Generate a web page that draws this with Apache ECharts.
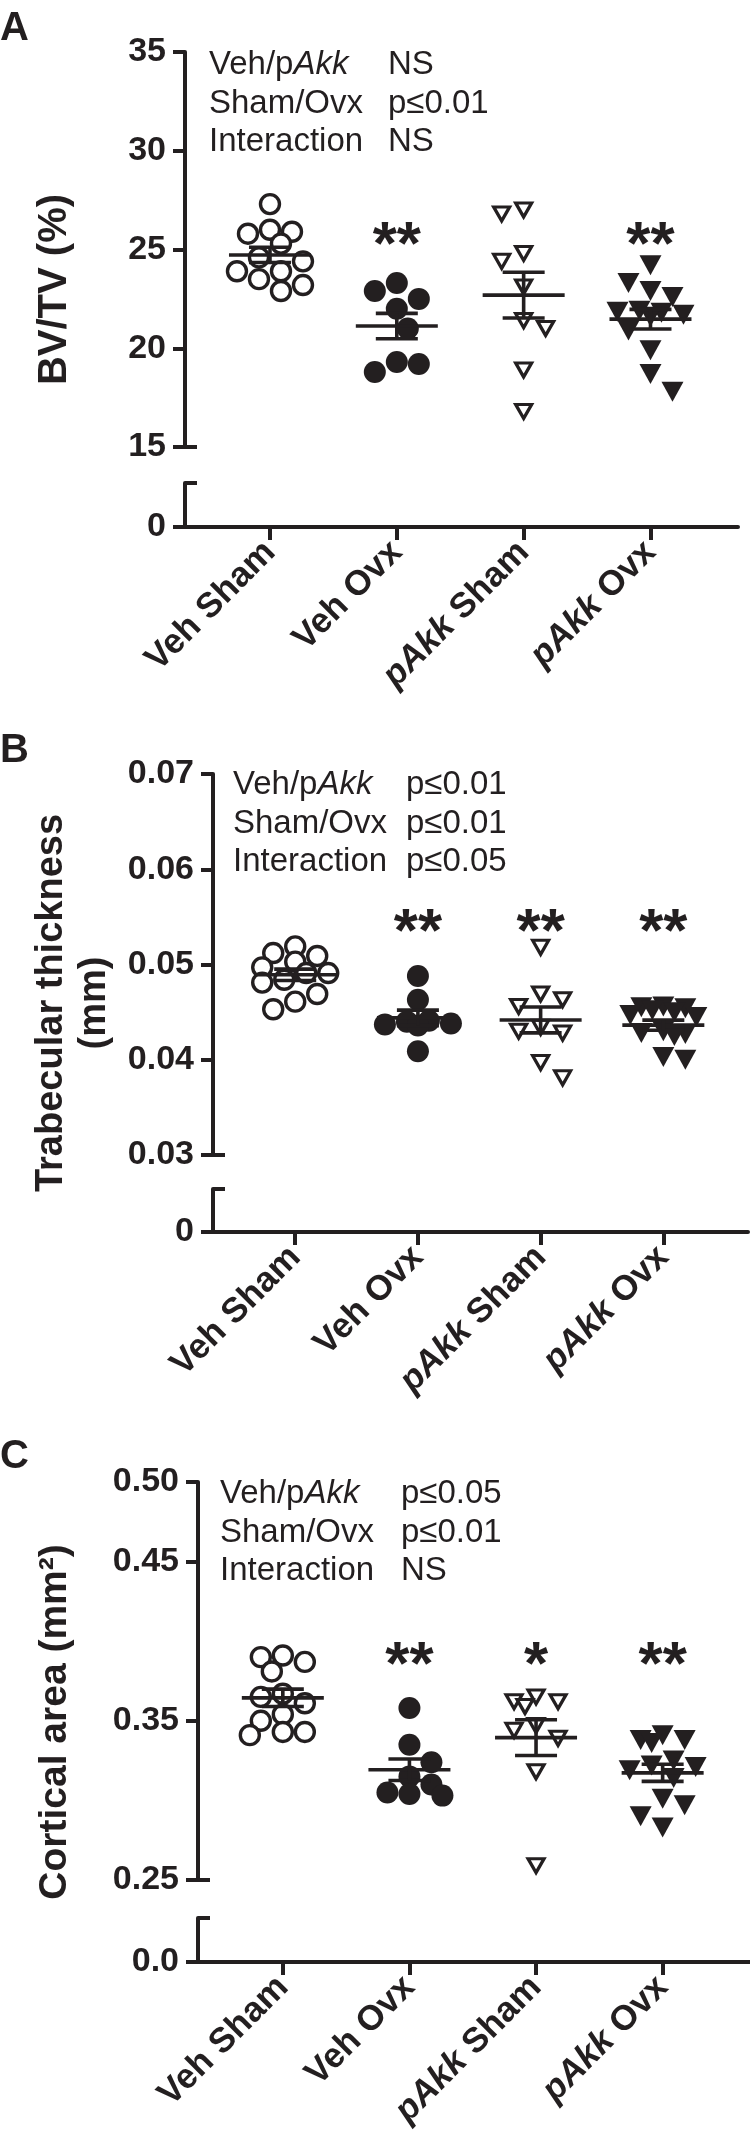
<!DOCTYPE html>
<html>
<head>
<meta charset="utf-8">
<script src="https://cdn.jsdelivr.net/npm/echarts@6.0.0/dist/echarts.min.js"></script>
<style>
html, body { margin: 0; padding: 0; background: #fff; }
#chart { width: 750px; height: 2150px; }
</style>
</head>
<body>
<div id="chart"></div>
<script>
// groups on the x axis
const groups = ['Veh Sham', 'Veh Ovx', 'pAkk Sham', 'pAkk Ovx'];

// A - BV/TV (%)
const bvtvVehSham = [27.3, 26.0, 25.9, 25.8, 25.3, 24.6, 24.4, 23.9, 23.9, 23.5, 23.2, 22.9];
const bvtvVehOvx = [23.3, 22.9, 22.5, 22.0, 21.0, 19.3, 19.2, 18.8];
const bvtvAkkSham = [27.0, 26.8, 24.8, 24.4, 23.1, 21.4, 21.0, 18.9, 16.8];
const bvtvAkkOvx = [24.2, 23.3, 22.9, 22.6, 21.9, 21.85, 21.8, 21.7, 21.6, 20.9, 19.9, 18.7, 17.8];

// B - trabecular thickness (mm)
const tbthVehSham = [0.0519, 0.0512, 0.0509, 0.0503, 0.0497, 0.0491, 0.0491, 0.0484, 0.0481, 0.0469, 0.0461, 0.0453];
const tbthVehOvx = [0.0488, 0.0463, 0.0441, 0.0440, 0.0438, 0.0437, 0.0436, 0.0409];
const tbthAkkSham = [0.0518, 0.0469, 0.0463, 0.0456, 0.0434, 0.0430, 0.0428, 0.0397, 0.0381];
const tbthAkkOvx = [0.0456, 0.0455, 0.0454, 0.0452, 0.0450, 0.0447, 0.0445, 0.0430, 0.0428, 0.0427, 0.0425, 0.0403, 0.0400];

// C - cortical area (mm2)
const ctarVehSham = [0.391, 0.390, 0.387, 0.381, 0.367, 0.365, 0.361, 0.354, 0.350, 0.343, 0.343, 0.341];
const ctarVehOvx = [0.358, 0.335, 0.324, 0.315, 0.310, 0.305, 0.304, 0.303];
const ctarAkkSham = [0.365, 0.362, 0.362, 0.359, 0.347, 0.344, 0.339, 0.318, 0.259];
const ctarAkkOvx = [0.341, 0.338, 0.338, 0.336, 0.325, 0.322, 0.321, 0.319, 0.314, 0.301, 0.297, 0.290, 0.283];

// asterisks vs Veh Sham
const sigBvtv = ['', '**', '', '**'];
const sigTbth = ['', '**', '**', '**'];
const sigCtar = ['', '**', '*', '**'];

// two-way anova
const anovaBvtv = [['Veh/p', 'NS'], ['Sham/Ovx', 'p≤0.01'], ['Interaction', 'NS']];
const anovaTbth = [['Veh/p', 'p≤0.01'], ['Sham/Ovx', 'p≤0.01'], ['Interaction', 'p≤0.05']];
const anovaCtar = [['Veh/p', 'p≤0.05'], ['Sham/Ovx', 'p≤0.01'], ['Interaction', 'NS']];

// y tick labels
const ticksBvtv = [15, 20, 25, 30, 35];
const ticksTbth = [0.03, 0.04, 0.05, 0.06, 0.07];
const ticksCtar = [0.25, 0.35, 0.45, 0.50];

const INK = '#231f20';
const FONT = '"Liberation Sans", Arial, Helvetica, sans-serif';
const X_MIN = 0.33, X_MAX = 4.69;
const DOT = 22;

const panels = [
    { letter: 'A', title: 'BV/TV (%)', titleSize: 40, sets: [bvtvVehSham, bvtvVehOvx, bvtvAkkSham, bvtvAkkOvx],
      sig: sigBvtv, anova: anovaBvtv, ticks: ticksBvtv, digits: 0, zero: '0', star: 25.85,
      left: 185, width: 553, top: 52, height: 395, capTop: 483, capHeight: 44,
      titleX: 55, letterY: 29, anovaX: [209, 388], anovaY: 65 },
    { letter: 'B', title: 'Trabecular thickness\n(mm)', titleSize: 38, sets: [tbthVehSham, tbthVehOvx, tbthAkkSham, tbthAkkOvx],
      sig: sigTbth, anova: anovaTbth, ticks: ticksTbth, digits: 2, zero: '0', star: 0.0547,
      left: 213, width: 535, top: 774, height: 381, capTop: 1189, capHeight: 43,
      titleX: 73, letterY: 751, anovaX: [233, 406], anovaY: 785 },
    { letter: 'C', title: 'Cortical area (mm²)', titleSize: 39, sets: [ctarVehSham, ctarVehOvx, ctarAkkSham, ctarAkkOvx],
      sig: sigCtar, anova: anovaCtar, ticks: ticksCtar, digits: 2, zero: '0.0', star: 0.3926,
      left: 198, width: 552, top: 1482, height: 398, capTop: 1918, capHeight: 44,
      titleX: 55, letterY: 1457, anovaX: [220, 401], anovaY: 1494 }
];

// marker look per group
const looks = [
    { symbol: 'circle', symbolSize: 19, symbolRotate: 0, itemStyle: { color: '#fff', borderColor: INK, borderWidth: 3.4, opacity: 1 } },
    { symbol: 'circle', symbolSize: 22, symbolRotate: 0, itemStyle: { color: INK, opacity: 1 } },
    { symbol: 'triangle', symbolSize: [16, 14], symbolRotate: 180, itemStyle: { color: '#fff', borderColor: INK, borderWidth: 3.2, opacity: 1 } },
    { symbol: 'triangle', symbolSize: [22, 20], symbolRotate: 180, itemStyle: { color: INK, opacity: 1 } }
];

// spread points sideways so they do not sit on top of each other
function swarm(vals, pxY, pxX) {
    const order = vals.map((v, i) => i).sort((a, b) => vals[b] - vals[a]);
    const placed = [];
    const out = [];
    order.forEach(i => {
        const y = vals[i] * pxY;
        const flip = placed.length % 2 ? -1 : 1;
        const cands = [0];
        for (let k = 1; k <= 3; k++) cands.push(flip * k * DOT / 2, -flip * k * DOT / 2);
        let bestX = 0, bestGap = -1;
        for (const x of cands) {
            let gap = Infinity;
            placed.forEach(p => { gap = Math.min(gap, Math.hypot(p.x - x, p.y - y)); });
            if (gap >= DOT) { bestX = x; break; }
            if (gap > bestGap + 0.5) { bestGap = gap; bestX = x; }
        }
        placed.push({ x: bestX, y: y });
        out[i] = bestX / pxX;
    });
    return out;
}

function meanSem(vals) {
    const n = vals.length;
    const m = vals.reduce((a, b) => a + b, 0) / n;
    const sd = Math.sqrt(vals.reduce((a, b) => a + (b - m) * (b - m), 0) / (n - 1));
    return [m, sd / Math.sqrt(n)];
}

const lineStyle = { color: INK, width: 4, opacity: 1 };
const boldText = { color: INK, fontFamily: FONT, fontWeight: 'bold' };

const option = { animation: false, grid: [], xAxis: [], yAxis: [], series: [], graphic: [] };

panels.forEach((p, pi) => {
    const yMin = p.ticks[0], yMax = p.ticks[p.ticks.length - 1];
    const pxY = p.height / (yMax - yMin);
    const pxX = p.width / (X_MAX - X_MIN);

    option.grid.push({ left: p.left, top: p.top, width: p.width, height: p.height, containLabel: false, outerBoundsMode: 'none' });
    option.grid.push({ left: p.left, top: p.capTop, width: p.width, height: p.capHeight, containLabel: false, outerBoundsMode: 'none' });

    option.xAxis.push({ gridIndex: 2 * pi, type: 'value', min: X_MIN, max: X_MAX, show: false });
    option.xAxis.push({
        gridIndex: 2 * pi + 1, type: 'value', min: X_MIN, max: X_MAX, position: 'bottom',
        axisLine: { show: true, onZero: false, lineStyle: lineStyle },
        axisTick: { show: true, customValues: [1, 2, 3, 4], length: 13, lineStyle: lineStyle },
        axisLabel: {
            customValues: [1, 2, 3, 4], rotate: 45, margin: 20,
            formatter: v => {
                const name = groups[Math.round(v) - 1] || '';
                if (name.indexOf('pAkk') === 0) return '{i|pAkk}{b|' + name.slice(4) + '}';
                return '{b|' + name + '}';
            },
            rich: {
                b: Object.assign({ fontSize: 35 }, boldText),
                i: Object.assign({ fontSize: 35, fontStyle: 'italic' }, boldText)
            }
        },
        splitLine: { show: false }
    });

    option.yAxis.push({
        gridIndex: 2 * pi, type: 'value', min: yMin, max: yMax, position: 'left',
        axisLine: { show: true, onZero: false, lineStyle: lineStyle },
        axisTick: { show: true, customValues: p.ticks, length: 12, lineStyle: lineStyle },
        axisLabel: Object.assign({ customValues: p.ticks, fontSize: 34, margin: 19, formatter: v => v.toFixed(p.digits) }, boldText),
        splitLine: { show: false }
    });
    option.yAxis.push({
        gridIndex: 2 * pi, type: 'value', min: yMin, max: yMax, position: 'left',
        axisLine: { show: false },
        axisTick: { show: true, inside: true, customValues: [yMin], length: 12, lineStyle: lineStyle },
        axisLabel: { show: false }, splitLine: { show: false }
    });
    option.yAxis.push({
        gridIndex: 2 * pi + 1, type: 'value', min: 0, max: 1, position: 'left',
        axisLine: { show: true, onZero: false, lineStyle: lineStyle },
        axisTick: { show: true, customValues: [0], length: 12, lineStyle: lineStyle },
        axisLabel: Object.assign({ customValues: [0], fontSize: 34, margin: 19, formatter: () => p.zero }, boldText),
        splitLine: { show: false }
    });
    option.yAxis.push({
        gridIndex: 2 * pi + 1, type: 'value', min: 0, max: 1, position: 'left',
        axisLine: { show: false },
        axisTick: { show: true, inside: true, customValues: [1], length: 12, lineStyle: lineStyle },
        axisLabel: { show: false }, splitLine: { show: false }
    });

    const stats = [];
    p.sets.forEach((vals, g) => {
        const offs = swarm(vals, pxY, pxX);
        option.series.push(Object.assign({
            type: 'scatter', xAxisIndex: 2 * pi, yAxisIndex: 4 * pi, silent: true, z: 3,
            data: vals.map((v, i) => [g + 1 + offs[i], v])
        }, looks[g]));
        const ms = meanSem(vals);
        stats.push([g + 1, ms[0], ms[1]]);
    });

    // mean with SEM
    option.series.push({
        type: 'custom', xAxisIndex: 2 * pi, yAxisIndex: 4 * pi, silent: true, z: 5,
        data: stats,
        renderItem: (params, api) => {
            const x = api.value(0), m = api.value(1), s = api.value(2);
            const c = api.coord([x, m]), hi = api.coord([x, m + s]), lo = api.coord([x, m - s]);
            const st = { stroke: INK, lineWidth: 3.6 };
            return { type: 'group', children: [
                { type: 'line', shape: { x1: c[0] - 41, y1: c[1], x2: c[0] + 41, y2: c[1] }, style: st },
                { type: 'line', shape: { x1: c[0] - 21, y1: hi[1], x2: c[0] + 21, y2: hi[1] }, style: st },
                { type: 'line', shape: { x1: c[0] - 21, y1: lo[1], x2: c[0] + 21, y2: lo[1] }, style: st },
                { type: 'line', shape: { x1: c[0], y1: hi[1], x2: c[0], y2: lo[1] }, style: st }
            ] };
        }
    });

    // asterisks
    option.series.push({
        type: 'custom', xAxisIndex: 2 * pi, yAxisIndex: 4 * pi, silent: true, z: 5,
        data: p.sig.map((s, g) => [g + 1, p.star]),
        renderItem: (params, api) => {
            const c = api.coord([api.value(0), api.value(1)]);
            return { type: 'text', x: c[0], y: c[1] + 14, style: {
                text: p.sig[params.dataIndex], fill: INK, fontFamily: FONT, fontWeight: 'bold',
                fontSize: 62, align: 'center', verticalAlign: 'middle' } };
        }
    });

    // panel letter
    option.graphic.push({ type: 'text', x: 0, y: p.letterY, style: {
        text: p.letter, fill: INK, fontFamily: FONT, fontWeight: 'bold', fontSize: 40, align: 'left', verticalAlign: 'middle' } });

    // axis title, centred on the whole broken axis
    const midY = (p.top + p.capTop + p.capHeight) / 2;
    option.graphic.push({ type: 'text', x: p.titleX, y: midY, rotation: Math.PI / 2, style: {
        text: p.title, fill: INK, fontFamily: FONT, fontWeight: 'bold', fontSize: p.titleSize, lineHeight: 43,
        align: 'center', verticalAlign: 'middle' } });

    // anova block
    p.anova.forEach((row, r) => {
        const y = p.anovaY + r * 38.5;
        const first = r === 0 ? '{n|Veh/p}{i|Akk}' : '{n|' + row[0] + '}';
        option.graphic.push({ type: 'text', x: p.anovaX[0], y: y, style: {
            text: first, fill: INK, verticalAlign: 'middle', align: 'left',
            rich: {
                n: { fontFamily: FONT, fontSize: 33, fill: INK },
                i: { fontFamily: FONT, fontSize: 33, fontStyle: 'italic', fill: INK }
            } } });
        option.graphic.push({ type: 'text', x: p.anovaX[1], y: y, style: {
            text: row[1], fill: INK, fontFamily: FONT, fontSize: 33, align: 'left', verticalAlign: 'middle' } });
    });
});

const myChart = echarts.init(document.getElementById('chart'), null, { renderer: 'canvas' });
myChart.setOption(option);
</script>
</body>
</html>
